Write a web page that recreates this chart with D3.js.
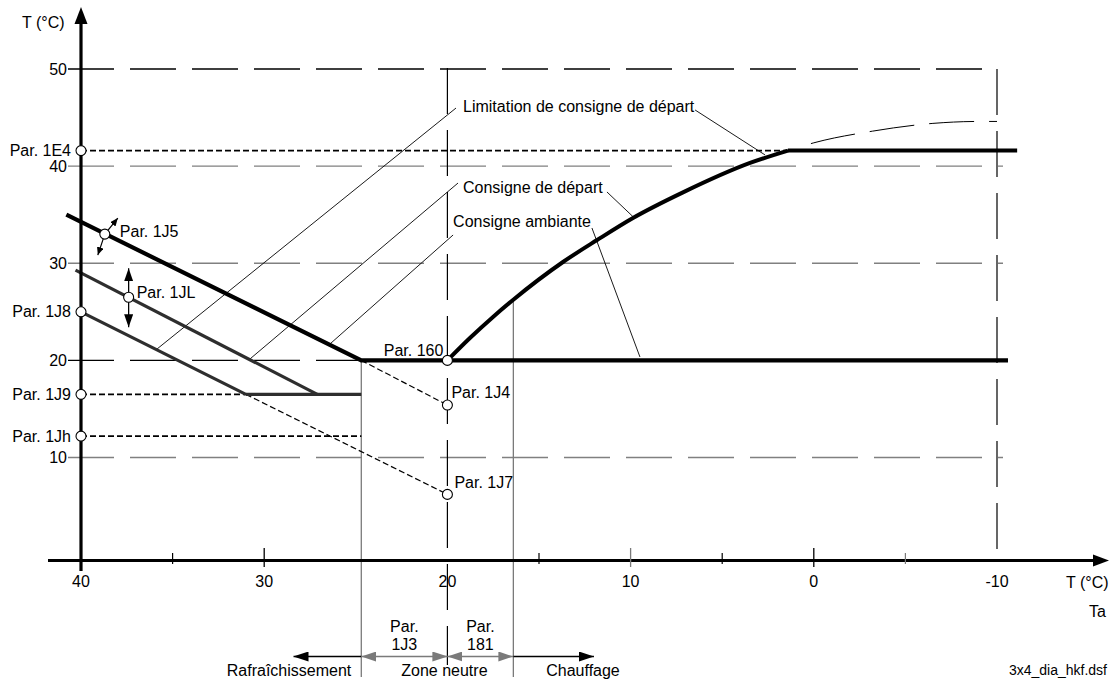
<!DOCTYPE html>
<html><head><meta charset="utf-8">
<script src="https://cdn.jsdelivr.net/npm/d3@7"></script>
<style>
html,body{margin:0;padding:0;background:#fff;}
svg{display:block;font-family:"Liberation Sans",Arial,sans-serif;}
</style></head><body>
<svg id="c" width="1109" height="681"></svg>
<script>
// ================= DATA =================
const xTickValues = [40, 30, 20, 10, 0, -10];
const xTickLabels = ["40", "30", "20", "10", "0", "-10"];
const xMinorTicks = [35, 15, 5, -5];
const yTickValues = [50, 40, 30, 20, 10];
const yTickLabels = ["50", "40", "30", "20", "10"];

const parAxisLabels = ["Par. 1E4", "Par. 1J8", "Par. 1J9", "Par. 1Jh"];
const parAxisValues = [41.6, 25, 16.5, 12.2];

// [Ta, T] pairs
const roomSetpoint   = [[40.8, 35], [24.7, 20], [-10.6, 20]];
const flowCurve      = [[20, 20], [18.77, 22.3], [17.51, 24.47], [16.42, 26.22], [13.69, 30.13],
                        [11.83, 32.39], [9.87, 34.66], [7.14, 37.3], [3.48, 40.33], [1.41, 41.6]];
const flowLimitSolid = [[1.41, 41.6], [-11.1, 41.6]];
const flowLimitDash  = [[40, 41.6], [1.41, 41.6]];
const flowCurveExt   = [[1.41, 41.6], [0, 42.4], [-3.2, 43.6], [-6.5, 44.4], [-9, 44.6], [-10, 44.6]];
const cool1JL        = [[40.3, 29.3], [27.1, 16.5]];
const cool1J8        = [[40, 25], [31, 16.5]];
const cool1J8Ext     = [[31, 16.5], [20, 6.2]];
const cool1J9Solid   = [[31, 16.5], [24.7, 16.5]];
const cool1J9Dash    = [[40, 16.5], [31, 16.5]];
const dash1Jh        = [[40, 12.2], [24.7, 12.2]];
const dash1J4        = [[24.7, 20], [20, 15.4]];

const pointNames  = ["1E4", "1J5", "1JL", "1J8", "1J9", "1Jh", "160", "1J4", "1J7"];
const pointTa     = [40, 38.7, 37.4, 40, 40, 40, 20, 20, 20];
const pointT      = [41.6, 33.0, 26.5, 25, 16.5, 12.2, 20, 15.4, 6.2];
const pointLabels = ["Par. 1J5", "Par. 1JL", "Par. 160", "Par. 1J4", "Par. 1J7"];

// annotation leader lines [Ta, T] -> [Ta, T]
const leaderLines = [
  [[19.53, 45.98], [35.85, 21.17]],
  [[6.48, 45.78], [2.66, 41.15]],
  [[19.42, 38.26], [30.78, 20.14]],
  [[11.29, 37.34], [9.87, 34.8]],
  [[19.69, 32.91], [26.41, 21.69]],
  [[12.11, 33.63], [9.49, 20.35]]
];
const annotationTexts = ["Limitation de consigne de départ", "Consigne de départ", "Consigne ambiante"];

const zoneBounds = [28.4, 24.7, 20, 16.4, 12];
const zoneLabels = ["Rafraîchissement", "Zone neutre", "Chauffage"];
const bandLabels = [["Par.", "1J3"], ["Par.", "181"]];
const vLineSolid = [24.7, 16.4];
const vLineSolidTop = [20, 26.22];
const vLineDash = [20, -10];

// ================= CHART =================
const FS = 16;
const svg = d3.select("#c");
const x = d3.scaleLinear().domain([40, -10]).range([81, 997]);
const y = d3.scaleLinear().domain([10, 50]).range([457.5, 69]);
const axisY = 560.5;
const bottomY = 677;
const line = d3.line().x(d => x(d[0])).y(d => y(d[1]));

const defs = svg.append("defs");
function mk(id, len, hw, color) {
  defs.append("marker").attr("id", id).attr("viewBox", `0 ${-hw} ${len} ${2*hw}`)
    .attr("refX", len).attr("refY", 0).attr("markerWidth", len).attr("markerHeight", 2*hw)
    .attr("markerUnits", "userSpaceOnUse").attr("orient", "auto-start-reverse")
    .append("path").attr("d", `M0,${-hw}L${len},0L0,${hw}Z`).attr("fill", color);
}
mk("aSmall", 8, 3.5, "#000");
mk("aMid", 13, 4.5, "#000");
mk("aZone", 15, 5, "#000");
mk("aZoneG", 15, 5, "#7a7a7a");

// ---- horizontal grid lines ----
const gridBlack = { 50: true, 20: true };
yTickValues.forEach(v => {
  svg.append("line")
    .attr("x1", 68).attr("x2", v === 50 ? x(-10) : 1003)
    .attr("y1", y(v)).attr("y2", y(v))
    .attr("stroke", gridBlack[v] ? "#000" : "#808080")
    .attr("stroke-width", 1.3)
    .attr("stroke-dasharray", "46,16");
});
svg.selectAll(".ylab").data(yTickValues).enter().append("text")
  .attr("x", 67).attr("y", d => y(d)).attr("dy", "0.35em")
  .attr("text-anchor", "end").attr("font-size", FS).attr("fill", "#000")
  .text((d, i) => yTickLabels[i]);

// ---- vertical dashed lines ----
svg.append("line").attr("x1", x(vLineDash[0])).attr("x2", x(vLineDash[0]))
  .attr("y1", y(50) - 1).attr("y2", 665)
  .attr("stroke", "#000").attr("stroke-width", 1.2).attr("stroke-dasharray", "46,16");
svg.append("line").attr("x1", x(vLineDash[1])).attr("x2", x(vLineDash[1]))
  .attr("y1", y(50)).attr("y2", axisY)
  .attr("stroke", "#000").attr("stroke-width", 1.2).attr("stroke-dasharray", "46,16");

// ---- vertical solid gray lines ----
vLineSolid.forEach((v, i) => {
  svg.append("line").attr("x1", x(v)).attr("x2", x(v))
    .attr("y1", y(vLineSolidTop[i])).attr("y2", bottomY)
    .attr("stroke", "#7a7a7a").attr("stroke-width", 1.3);
});

// ---- leader lines ----
leaderLines.forEach(l => {
  svg.append("path").attr("d", line(l)).attr("fill", "none")
    .attr("stroke", "#000").attr("stroke-width", 0.9);
});

// ---- dashed parameter lines ----
[flowLimitDash, cool1J9Dash, dash1Jh].forEach(d => {
  svg.append("path").attr("d", line(d)).attr("fill", "none")
    .attr("stroke", "#000").attr("stroke-width", 1.7).attr("stroke-dasharray", "6,3");
});
[cool1J8Ext, dash1J4].forEach(d => {
  svg.append("path").attr("d", line(d)).attr("fill", "none")
    .attr("stroke", "#000").attr("stroke-width", 1.2).attr("stroke-dasharray", "6,3");
});
svg.append("path").attr("d", d3.line().x(d => x(d[0])).y(d => y(d[1])).curve(d3.curveMonotoneX)(flowCurveExt))
  .attr("fill", "none").attr("stroke", "#000").attr("stroke-width", 1)
  .attr("stroke-dasharray", "0,24,45,15,45,15,45,15,45,15");

// ---- cooling lines (medium) ----
[cool1JL, cool1J8, cool1J9Solid].forEach(d => {
  svg.append("path").attr("d", line(d)).attr("fill", "none")
    .attr("stroke", "#2e2e2e").attr("stroke-width", 3.2);
});

// ---- thick lines ----
svg.append("path").attr("d", line(roomSetpoint)).attr("fill", "none")
  .attr("stroke", "#000").attr("stroke-width", 4.2).attr("stroke-linejoin", "miter");
svg.append("path").attr("d", line(flowLimitSolid)).attr("fill", "none")
  .attr("stroke", "#000").attr("stroke-width", 4);
svg.append("path").attr("d", d3.line().x(d => x(d[0])).y(d => y(d[1])).curve(d3.curveMonotoneX)(flowCurve))
  .attr("fill", "none").attr("stroke", "#000").attr("stroke-width", 4);

// ---- axes ----
svg.append("line").attr("x1", 48).attr("x2", 1095).attr("y1", axisY).attr("y2", axisY)
  .attr("stroke", "#000").attr("stroke-width", 3.2);
svg.append("path").attr("d", `M1109,${axisY}L1093,${axisY - 6}L1093,${axisY + 6}Z`).attr("fill", "#000");
svg.append("line").attr("x1", x(40)).attr("x2", x(40)).attr("y1", 571).attr("y2", 22)
  .attr("stroke", "#000").attr("stroke-width", 3.2);
svg.append("path").attr("d", `M${x(40)},7L${x(40) - 6.5},24L${x(40) + 6.5},24Z`).attr("fill", "#000");

// x ticks
const tickColor = { 30: "#000", 10: "#7a7a7a", 0: "#000" };
xTickValues.forEach(v => {
  if (tickColor[v]) {
    svg.append("line").attr("x1", x(v)).attr("x2", x(v)).attr("y1", 548).attr("y2", 567)
      .attr("stroke", tickColor[v]).attr("stroke-width", 1.3);
  }
});
xMinorTicks.forEach(v => {
  svg.append("line").attr("x1", x(v)).attr("x2", x(v)).attr("y1", 553).attr("y2", 564)
    .attr("stroke", v === -5 ? "#7a7a7a" : "#000").attr("stroke-width", 1.2);
});
svg.selectAll(".xlab").data(xTickValues).enter().append("text")
  .attr("x", d => x(d)).attr("y", 587).attr("text-anchor", "middle")
  .attr("font-size", FS).text((d, i) => xTickLabels[i]);

// axis titles
svg.append("text").attr("x", 22).attr("y", 28).attr("font-size", FS).text("T (°C)");
svg.append("text").attr("x", 1066).attr("y", 588).attr("font-size", FS).text("T (°C)");
svg.append("text").attr("x", 1106).attr("y", 617).attr("text-anchor", "end").attr("font-size", FS).text("Ta");
svg.append("text").attr("x", 1107).attr("y", 675).attr("text-anchor", "end").attr("font-size", 14).text("3x4_dia_hkf.dsf");

// parameter labels on y axis
parAxisValues.forEach((v, i) => {
  svg.append("text").attr("x", 71).attr("y", y(v)).attr("dy", "0.35em")
    .attr("text-anchor", "end").attr("font-size", FS).text(parAxisLabels[i]);
});

// ---- adjustment arrows ----
const p1J5 = [x(pointTa[1]), y(pointT[1])];
svg.append("line").attr("x1", p1J5[0]).attr("y1", p1J5[1]).attr("x2", p1J5[0] + 13).attr("y2", p1J5[1] - 16)
  .attr("stroke", "#000").attr("stroke-width", 1.2).attr("marker-end", "url(#aSmall)");
svg.append("line").attr("x1", p1J5[0]).attr("y1", p1J5[1]).attr("x2", p1J5[0] - 7).attr("y2", p1J5[1] + 21)
  .attr("stroke", "#000").attr("stroke-width", 1.2).attr("marker-end", "url(#aSmall)");
const p1JL = [x(pointTa[2]), y(pointT[2])];
svg.append("line").attr("x1", p1JL[0]).attr("y1", p1JL[1]).attr("x2", p1JL[0]).attr("y2", p1JL[1] - 29)
  .attr("stroke", "#000").attr("stroke-width", 1.3).attr("marker-end", "url(#aMid)");
svg.append("line").attr("x1", p1JL[0]).attr("y1", p1JL[1]).attr("x2", p1JL[0]).attr("y2", p1JL[1] + 30)
  .attr("stroke", "#000").attr("stroke-width", 1.3).attr("marker-end", "url(#aMid)");

// ---- point markers ----
pointNames.forEach((n, i) => {
  svg.append("circle").attr("cx", x(pointTa[i])).attr("cy", y(pointT[i])).attr("r", 5)
    .attr("fill", "#fff").attr("stroke", "#000").attr("stroke-width", 1.1);
});

// point labels
const lab = (text, px, py, anchor) => svg.append("text").attr("x", px).attr("y", py)
  .attr("text-anchor", anchor || "start").attr("font-size", FS).text(text);
lab(pointLabels[0], x(pointTa[1]) + 15, y(pointT[1]) + 3);
lab(pointLabels[1], x(pointTa[2]) + 8, y(pointT[2]) + 1);
lab(pointLabels[2], x(pointTa[6]) - 4, y(pointT[6]) - 4, "end");
lab(pointLabels[3], x(pointTa[7]) + 4, y(pointT[7]) - 7);
lab(pointLabels[4], x(pointTa[8]) + 7, y(pointT[8]) - 6);

// annotation texts
lab(annotationTexts[0], x(leaderLines[0][0][0]) + 7, y(leaderLines[0][0][1]) + 4);
lab(annotationTexts[1], x(leaderLines[2][0][0]) + 5, y(leaderLines[2][0][1]) + 10);
lab(annotationTexts[2], x(leaderLines[4][0][0]), y(leaderLines[4][0][1]) - 8);

// ---- zone arrows ----
const zy = 656.5;
svg.append("line").attr("x1", x(zoneBounds[1])).attr("x2", x(zoneBounds[0])).attr("y1", zy).attr("y2", zy)
  .attr("stroke", "#000").attr("stroke-width", 1.3).attr("marker-end", "url(#aZone)");
svg.append("line").attr("x1", x(zoneBounds[1])).attr("x2", x(zoneBounds[2])).attr("y1", zy).attr("y2", zy)
  .attr("stroke", "#7a7a7a").attr("stroke-width", 1.3)
  .attr("marker-start", "url(#aZoneG)").attr("marker-end", "url(#aZoneG)");
svg.append("line").attr("x1", x(zoneBounds[2])).attr("x2", x(zoneBounds[3])).attr("y1", zy).attr("y2", zy)
  .attr("stroke", "#7a7a7a").attr("stroke-width", 1.3)
  .attr("marker-start", "url(#aZoneG)").attr("marker-end", "url(#aZoneG)");
svg.append("line").attr("x1", x(zoneBounds[3])).attr("x2", x(zoneBounds[4])).attr("y1", zy).attr("y2", zy)
  .attr("stroke", "#000").attr("stroke-width", 1.3).attr("marker-end", "url(#aZone)");

// zone labels
lab(zoneLabels[0], 289, 676, "middle");
lab(zoneLabels[1], x(zoneBounds[2]) - 3, 676, "middle");
lab(zoneLabels[2], 583, 676, "middle");
lab(bandLabels[0][0], (x(zoneBounds[1]) + x(zoneBounds[2])) / 2, 632, "middle");
lab(bandLabels[0][1], (x(zoneBounds[1]) + x(zoneBounds[2])) / 2, 650, "middle");
lab(bandLabels[1][0], (x(zoneBounds[2]) + x(zoneBounds[3])) / 2, 632, "middle");
lab(bandLabels[1][1], (x(zoneBounds[2]) + x(zoneBounds[3])) / 2, 650, "middle");
</script>
</body></html>
